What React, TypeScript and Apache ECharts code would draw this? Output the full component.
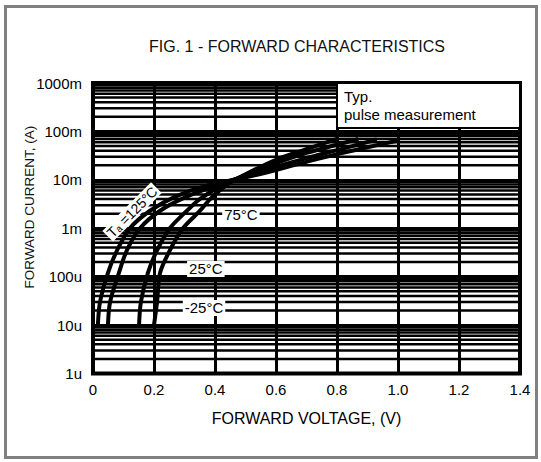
import React, { useEffect, useRef } from 'react';
import * as echarts from 'echarts';

const chartTitle = 'FIG. 1 - FORWARD CHARACTERISTICS';
const xAxisName = 'FORWARD VOLTAGE, (V)';
const yAxisName = 'FORWARD CURRENT, (A)';
const noteLines = ['Typ.', 'pulse measurement'];
const yTickLabels = ['1u', '10u', '100u', '1m', '10m', '100m', '1000m'];
const xTickLabels = ['0', '0.2', '0.4', '0.6', '0.8', '1.0', '1.2', '1.4'];
const xRange = [0, 1.4];
const decades = [1e-6, 1e-5, 1e-4, 1e-3, 1e-2, 1e-1];
const minorSteps = [2, 3, 4, 5, 6, 7, 8, 9];

const seriesNames = ['Ta=125°C', '75°C', '25°C', '-25°C'];
const curve125: [number, number][] = [
  [0.016, 1e-5], [0.023, 3e-5], [0.049, 1.2e-4], [0.079, 3.5e-4], [0.121, 1e-3],
  [0.187, 2.3e-3], [0.27, 4.5e-3], [0.37, 7.5e-3], [0.508, 1.15e-2], [0.6, 1.6e-2],
  [0.7, 2.35e-2], [0.8, 3.4e-2], [0.9, 4.7e-2], [1.0, 6.5e-2],
];
const curve75: [number, number][] = [
  [0.049, 1e-5], [0.056, 3e-5], [0.085, 1.2e-4], [0.111, 3.5e-4], [0.154, 1e-3],
  [0.22, 2.3e-3], [0.3, 4.3e-3], [0.4, 7.5e-3], [0.5, 1.2e-2], [0.6, 1.85e-2],
  [0.7, 2.8e-2], [0.8, 4.1e-2], [0.93, 6.8e-2],
];
const curve25: [number, number][] = [
  [0.151, 1e-5], [0.157, 3e-5], [0.18, 1.2e-4], [0.21, 3.5e-4], [0.252, 1e-3],
  [0.308, 2.3e-3], [0.35, 4e-3], [0.42, 7.5e-3], [0.5, 1.25e-2], [0.6, 2.2e-2],
  [0.7, 3.6e-2], [0.8, 5.3e-2], [0.87, 7e-2],
];
const curveM25: [number, number][] = [
  [0.2, 1e-5], [0.21, 3e-5], [0.22, 1.2e-4], [0.252, 3.5e-4], [0.295, 1e-3],
  [0.351, 2.3e-3], [0.384, 4e-3], [0.44, 8e-3], [0.5, 1.3e-2], [0.6, 2.6e-2],
  [0.7, 4.3e-2], [0.8, 7e-2],
];
const curves = [curve125, curve75, curve25, curveM25];

const FONT = '"Liberation Sans", Arial, sans-serif';

export default function App() {
  const ref = useRef<HTMLDivElement>(null);
  useEffect(() => {
    if (!ref.current) return;
    const chart = echarts.init(ref.current, undefined, { renderer: 'svg' });
    const minorValues: number[] = [];
    decades.forEach((d) => minorSteps.forEach((m) => minorValues.push(d * m)));

    const minorSeries = minorValues.map((v) => ({
      type: 'line',
      name: 'minor',
      data: [[xRange[0], v], [xRange[1], v]],
      showSymbol: false,
      symbol: 'none',
      z: 1,
      silent: true,
      lineStyle: { color: '#000', width: 2.5 },
    }));

    const curveSeries = curves.map((c, i) => ({
      type: 'line',
      name: seriesNames[i],
      data: c,
      smooth: 0.3,
      showSymbol: false,
      symbol: 'none',
      z: 5,
      lineStyle: { color: '#000', width: 4 },
      silent: true,
    }));

    const labelPoint = (text: string, coord: [number, number], rotate = 0, fontSize = 15) => ({
      coord,
      value: 0,
      symbol: 'circle',
      symbolSize: 1,
      itemStyle: { color: 'rgba(0,0,0,0)' },
      label: {
        show: true,
        position: 'inside',
        formatter: text,
        rotate,
        fontSize,
        fontFamily: FONT,
        color: '#000',
        backgroundColor: '#fff',
        padding: [1, 2, 0, 2],
      },
    });

    const option: any = {
      animation: false,
      backgroundColor: '#fff',
      grid: {
        left: 93,
        right: 21,
        top: 83,
        bottom: 88.5,
        show: true,
        borderColor: '#000',
        borderWidth: 4,
        backgroundColor: '#fff',
      },
      xAxis: {
        type: 'value',
        min: xRange[0],
        max: xRange[1],
        interval: 0.2,
        name: xAxisName,
        nameLocation: 'middle',
        nameGap: 37,
        nameTextStyle: { fontSize: 16, fontFamily: FONT, color: '#000' },
        axisLine: { show: false },
        axisTick: { show: false },
        axisLabel: {
          margin: 8,
          fontSize: 15,
          fontFamily: FONT,
          color: '#000',
          formatter: (v: number) => xTickLabels[Math.round(v / 0.2)] ?? '',
        },
        splitLine: { show: true, lineStyle: { color: '#000', width: 3 } },
      },
      yAxis: {
        type: 'log',
        logBase: 10,
        min: 1e-6,
        max: 1,
        splitNumber: 6,
        axisLine: { show: false },
        axisTick: { show: false },
        axisLabel: {
          margin: 11,
          fontSize: 15,
          fontFamily: FONT,
          color: '#000',
          formatter: (v: number) => yTickLabels[Math.round(Math.log10(v)) + 6] ?? '',
        },
        splitLine: { show: true, lineStyle: { color: '#000', width: 3 } },
      },
      series: [
        ...minorSeries,
        ...curveSeries,
        {
          type: 'line',
          name: 'labels',
          data: [],
          z: 10,
          silent: true,
          markPoint: {
            silent: true,
            animation: false,
            data: [
              labelPoint('T\u2090 =125°C', [0.128, 2.17e-3], 45, 14),
              labelPoint('75°C', [0.485, 1.88e-3]),
              labelPoint('25°C', [0.37, 1.44e-4]),
              labelPoint('-25°C', [0.364, 2.26e-5]),
            ],
          },
        },
      ],
      graphic: [
        {
          type: 'rect',
          z: 100,
          shape: { x: 5.5, y: 6.5, width: 531, height: 451 },
          style: { fill: 'none', stroke: '#808080', lineWidth: 3 },
        },
        {
          type: 'text',
          z: 100,
          x: 297,
          y: 46,
          style: {
            text: chartTitle,
            font: `16px ${FONT}`,
            fill: '#111',
            align: 'center',
            verticalAlign: 'middle',
            textAlign: 'center',
            textVerticalAlign: 'middle',
          },
        },
        {
          type: 'text',
          z: 100,
          x: 29,
          y: 207,
          rotation: Math.PI / 2,
          style: {
            text: yAxisName,
            font: `13.5px ${FONT}`,
            fill: '#111',
            align: 'center',
            verticalAlign: 'middle',
            textAlign: 'center',
            textVerticalAlign: 'middle',
          },
        },
        {
          type: 'rect',
          z: 100,
          shape: { x: 337, y: 83, width: 183, height: 45 },
          style: { fill: '#fff', stroke: '#000', lineWidth: 2 },
        },
        {
          type: 'text',
          z: 101,
          x: 344,
          y: 87,
          style: {
            text: noteLines.join('\n'),
            font: `15px ${FONT}`,
            lineHeight: 18,
            fill: '#000',
          },
        },
      ],
    };
    chart.setOption(option);
    return () => chart.dispose();
  }, []);
  return (
    <div
      ref={ref}
      style={{ position: 'fixed', left: 0, top: 0, width: 541, height: 462, background: '#fff' }}
    />
  );
}
